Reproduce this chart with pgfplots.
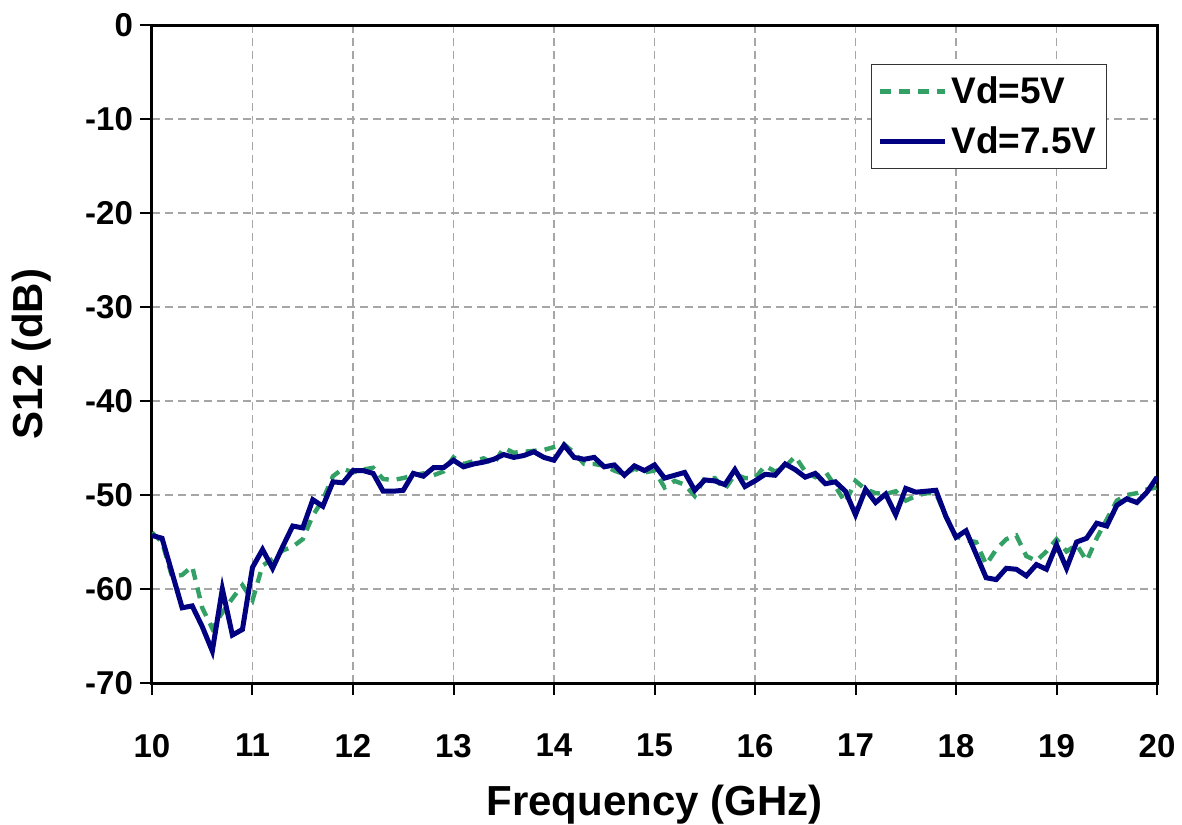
\documentclass[border=0pt]{standalone}
\usepackage{pgfplots}
\pgfplotsset{compat=1.18}
\usepackage{fontspec}
\setmainfont{Liberation Sans}
\definecolor{vgreen}{RGB}{51,160,102}
\definecolor{vnavy}{RGB}{0,0,128}
\begin{document}
\begin{tikzpicture}
\useasboundingbox (-76pt,-70.5pt) rectangle (515pt,341.5pt);
\begin{axis}[
 at={(0,0)}, anchor=south west,
 scale only axis, width=502.5pt, height=329pt,
 xmin=10, xmax=20, ymin=-70, ymax=0,
 xtick={10,...,20}, ytick={-70,-60,...,0},
 xtick pos=bottom, ytick pos=left,
 tick align=outside, major tick length=6pt,
 tick style={black, line width=1pt},
 axis line style={black, line width=1.5pt},
 grid=major,
 major grid style={black!35, dash pattern=on 4pt off 2.5pt, line width=0.6pt},
 /pgf/number format/assume math mode=true,
 ticklabel style={font=\fontsize{16.5}{18}\selectfont\bfseries},
 xticklabel style={yshift=-16pt},
 xlabel={Frequency (GHz)}, ylabel={S12 (dB)},
 label style={font=\fontsize{21}{24}\selectfont\bfseries},
 xlabel style={at={(axis description cs:0.5,0)}, anchor=base, yshift=-66pt},
 ylabel style={at={(axis description cs:-0.1094,0.5)}, anchor=base},
 legend style={at={(rel axis cs:0.9502,0.9407)}, anchor=north east, draw=black!80, line width=0.6pt,
   font=\fontsize{18.5}{20}\selectfont\bfseries, inner xsep=3pt, inner ysep=4pt, row sep=6pt},
 legend cell align=left,
 legend image code/.code={\draw[#1] (0pt,0pt) -- (32.5pt,0pt);},
]
\addplot[color=vgreen, line width=2.2pt, dash pattern=on 5.5pt off 4pt] coordinates {
(10.0,-54.0)(10.1,-55.0)(10.2,-58.7)(10.3,-58.5)(10.4,-57.6)(10.5,-62.0)(10.6,-64.2)(10.7,-62.5)(10.8,-61.0)(10.9,-59.6)
(11.0,-61.2)(11.1,-57.5)(11.2,-56.8)(11.3,-55.9)(11.4,-55.5)(11.5,-54.7)(11.6,-52.2)(11.7,-50.5)(11.8,-48.0)(11.9,-47.2)
(12.0,-47.6)(12.1,-47.3)(12.2,-47.1)(12.3,-48.3)(12.4,-48.4)(12.5,-48.2)(12.6,-47.9)(12.7,-47.7)(12.8,-47.9)(12.9,-47.5)
(13.0,-46.0)(13.1,-46.7)(13.2,-46.4)(13.3,-46.1)(13.4,-46.7)(13.5,-45.0)(13.6,-45.5)(13.7,-45.4)(13.8,-45.3)(13.9,-45.2)
(14.0,-44.9)(14.1,-44.6)(14.2,-45.5)(14.3,-46.7)(14.4,-46.7)(14.5,-46.9)(14.6,-47.4)(14.7,-47.8)(14.8,-47.2)(14.9,-47.6)
(15.0,-47.4)(15.1,-49.2)(15.2,-48.5)(15.3,-48.9)(15.4,-50.1)(15.5,-48.2)(15.6,-48.2)(15.7,-49.4)(15.8,-47.8)(15.9,-48.2)
(16.0,-48.2)(16.1,-46.9)(16.2,-47.5)(16.3,-47.0)(16.4,-45.9)(16.5,-47.5)(16.6,-48.1)(16.7,-47.5)(16.8,-49.1)(16.9,-50.8)
(17.0,-48.5)(17.1,-49.4)(17.2,-49.8)(17.3,-49.9)(17.4,-49.6)(17.5,-50.6)(17.6,-50.1)(17.7,-49.8)(17.8,-49.8)(17.9,-52.3)
(18.0,-54.4)(18.1,-54.8)(18.2,-55.0)(18.3,-57.4)(18.4,-55.8)(18.5,-54.7)(18.6,-54.3)(18.7,-56.5)(18.8,-57.0)(18.9,-56.0)
(19.0,-54.7)(19.1,-56.0)(19.2,-55.3)(19.3,-57.0)(19.4,-54.6)(19.5,-52.6)(19.6,-50.6)(19.7,-50.0)(19.8,-49.8)(19.9,-49.4)
(20.0,-49.2)};
\addlegendentry{Vd=5V}
\addplot[color=vnavy, line width=2.5pt] coordinates {
(10.0,-54.3)(10.1,-54.6)(10.2,-58.3)(10.3,-62.0)(10.4,-61.8)(10.5,-64.0)(10.6,-66.6)(10.7,-60.0)(10.8,-64.9)(10.9,-64.3)
(11.0,-57.7)(11.1,-55.8)(11.2,-57.8)(11.3,-55.5)(11.4,-53.3)(11.5,-53.5)(11.6,-50.5)(11.7,-51.2)(11.8,-48.6)(11.9,-48.7)
(12.0,-47.4)(12.1,-47.4)(12.2,-47.7)(12.3,-49.6)(12.4,-49.6)(12.5,-49.5)(12.6,-47.7)(12.7,-48.0)(12.8,-47.1)(12.9,-47.1)
(13.0,-46.3)(13.1,-47.0)(13.2,-46.7)(13.3,-46.5)(13.4,-46.2)(13.5,-45.7)(13.6,-46.0)(13.7,-45.8)(13.8,-45.4)(13.9,-46.0)
(14.0,-46.3)(14.1,-44.7)(14.2,-46.0)(14.3,-46.2)(14.4,-46.0)(14.5,-47.0)(14.6,-46.8)(14.7,-47.9)(14.8,-46.9)(14.9,-47.4)
(15.0,-46.8)(15.1,-48.2)(15.2,-47.9)(15.3,-47.6)(15.4,-49.5)(15.5,-48.4)(15.6,-48.5)(15.7,-48.9)(15.8,-47.3)(15.9,-49.1)
(16.0,-48.5)(16.1,-47.8)(16.2,-47.9)(16.3,-46.7)(16.4,-47.3)(16.5,-48.1)(16.6,-47.7)(16.7,-48.8)(16.8,-48.6)(16.9,-49.6)
(17.0,-52.1)(17.1,-49.4)(17.2,-50.8)(17.3,-49.9)(17.4,-52.1)(17.5,-49.3)(17.6,-49.7)(17.7,-49.6)(17.8,-49.5)(17.9,-52.3)
(18.0,-54.5)(18.1,-53.8)(18.2,-56.3)(18.3,-58.8)(18.4,-59.0)(18.5,-57.8)(18.6,-57.9)(18.7,-58.6)(18.8,-57.4)(18.9,-57.9)
(19.0,-55.3)(19.1,-57.8)(19.2,-55.0)(19.3,-54.6)(19.4,-53.0)(19.5,-53.3)(19.6,-51.1)(19.7,-50.4)(19.8,-50.8)(19.9,-49.7)
(20.0,-48.1)};
\addlegendentry{Vd=7.5V}
\end{axis}
\end{tikzpicture}
\end{document}
